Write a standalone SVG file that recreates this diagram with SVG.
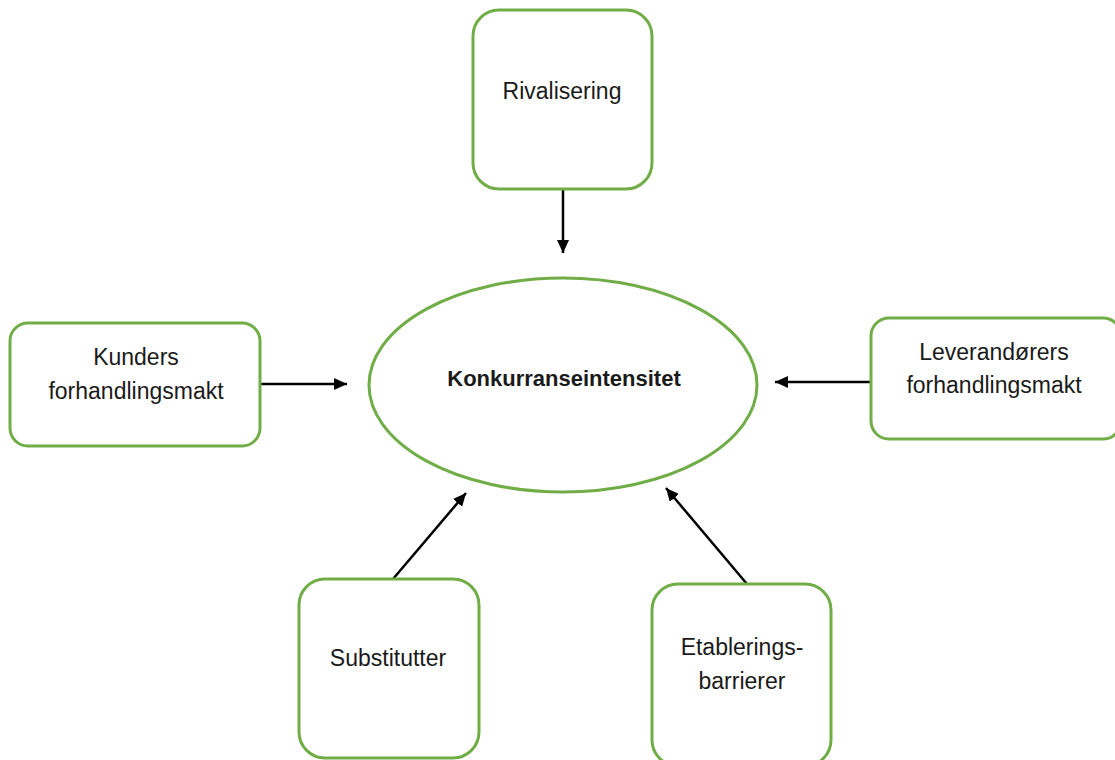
<svg xmlns="http://www.w3.org/2000/svg" width="1115" height="760" viewBox="0 0 1115 760">
<style>
.box{fill:#fff;stroke:#70AD47;stroke-width:3}
.t{font-family:"Liberation Sans",Arial,sans-serif;font-size:23px;fill:#1a1a1a;text-anchor:middle}
.b{font-weight:bold;font-size:22px}
.c{stroke:#000;stroke-width:2.5;fill:none;marker-end:url(#ah)}
</style>
<defs>
<marker id="ah" markerUnits="userSpaceOnUse" markerWidth="14" markerHeight="12" refX="13" refY="6" orient="auto">
<path d="M0,0 L13,6 L0,12 Z" fill="#000"/>
</marker>
</defs>
<rect width="1115" height="760" fill="#fff"/>
<g id="connectors">
<line class="c" x1="563" y1="189" x2="563" y2="253"/>
<line class="c" x1="260" y1="384" x2="347" y2="384"/>
<line class="c" x1="871" y1="382" x2="775" y2="382"/>
<line class="c" x1="393" y1="579" x2="466" y2="493"/>
<line class="c" x1="747" y1="584" x2="666" y2="488"/>
</g>
<g id="center">
<ellipse class="box" cx="563" cy="385" rx="194" ry="107"/>
<text class="t b" x="564" y="386">Konkurranseintensitet</text>
</g>
<g id="rivalisering">
<rect class="box" x="473" y="10" width="179" height="179" rx="26"/>
<text class="t" x="562" y="99">Rivalisering</text>
</g>
<g id="kunder">
<rect class="box" x="10" y="323" width="250" height="123" rx="18"/>
<text class="t" x="136" y="365">Kunders</text>
<text class="t" x="136" y="399">forhandlingsmakt</text>
</g>
<g id="leverandorer">
<rect class="box" x="871" y="318" width="250" height="121" rx="18"/>
<text class="t" x="994" y="360">Leverandørers</text>
<text class="t" x="994" y="393">forhandlingsmakt</text>
</g>
<g id="substitutter">
<rect class="box" x="299" y="579" width="180" height="179" rx="26"/>
<text class="t" x="388" y="666">Substitutter</text>
</g>
<g id="etablering">
<rect class="box" x="652" y="584" width="179" height="182" rx="26"/>
<text class="t" x="742" y="655">Etablerings-</text>
<text class="t" x="742" y="689">barrierer</text>
</g>
</svg>
